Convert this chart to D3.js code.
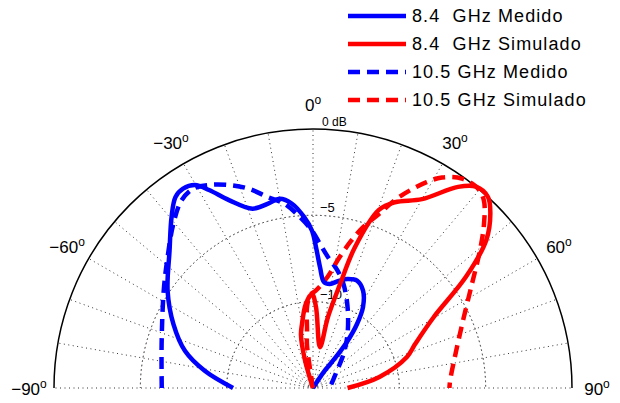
<!DOCTYPE html>
<html>
<head>
<meta charset="utf-8">
<script src="https://cdnjs.cloudflare.com/ajax/libs/d3/7.8.5/d3.min.js"></script>
<style>
  body { margin: 0; background: #fff; }
  svg { display: block; font-family: "Liberation Sans", Arial, Helvetica, sans-serif; }
</style>
</head>
<body>
<div id="chart"></div>
<script>
// tick values
var angleTicks = [-90, -60, -30, 0, 30, 60, 90];
var spokeTicks = [-90, -80, -70, -60, -50, -40, -30, -20, -10, 0, 10, 20, 30, 40, 50, 60, 70, 80, 90];
var ringTicks = [-5, -10];
var ringLabels = ['0 dB', '\u22125', '\u221210'];
var ringLabelValues = [0, -5, -10];

// series (angle in degrees, gain in dB)
var med84Ang = [-90, -81.1, -73.9, -65.4, -56.3, -46.2, -39.6, -35.75, -33.1, -30.2, -27.7, -24.1, -18.6, -13.7, -9.9, -6.5, -3.0, -0.4, 1.2, 3.3, 5.9, 9.1, 13.9, 17.6, 22.3, 27.2, 31.7, 34.5, 36.3, 36.5, 34, 35];
var med84Db  = [-10.37, -8.67, -7.29, -6.11, -4.88, -3.49, -2.15, -1.37, -1.22, -1.40, -2.05, -3.08, -4.04, -4.01, -3.87, -4.26, -5.08, -5.88, -6.83, -7.98, -8.83, -8.9, -8.59, -8.38, -8.28, -8.66, -9.49, -10.5, -11.62, -12.8, -13.84, -15];

var sim84Ang = [-20, -16, -12.8, -9.75, -4.8, -0.6, 2.1, 9.7, 11.9, 14.6, 16.6, 20.3, 23.8, 30, 35.8, 39, 42.5, 45.5, 49.5, 54, 59.6, 66.7, 71.7, 80.5, 90];
var sim84Db  = [-15, -13.3, -11.85, -11.24, -10.1, -9.56, -10.3, -12.6, -10.8, -8.8, -6.48, -4.0, -3.24, -2.37, -0.64, 0, 0, -0.6, -1.8, -4.05, -6.9, -8.56, -9.27, -11.1, -13.0];

var med105Ang = [-90, -73.8, -56.9, -48, -40.4, -35, -31.05, -27.1, -22.5, -17.9, -13.3, -8.9, -4.35, -0.4, 2.8, 6.5, 11.8, 16.3, 23.1, 32.6, 41.9, 58.2, 90];
var med105Db  = [-6.24, -5.87, -4.68, -3.67, -2.52, -1.73, -1.53, -1.79, -2.28, -2.87, -3.64, -4.19, -5.07, -5.88, -6.65, -7.36, -8.05, -8.72, -9.9, -11.29, -12.35, -13.46, -14.03];

var sim105Ang = [-9, -8, -6, -4, -1.5, 1.6, 7.5, 11.5, 14.6, 17.3, 20.8, 23.6, 26.3, 28.9, 31.5, 35.4, 39.4, 42.3, 46.2, 50.5, 56.8, 66.8, 77.8, 87, 90];
var sim105Db  = [-15, -12.5, -11.7, -10.2, -9.6, -9.36, -8.5, -7.26, -6.17, -5.24, -4.2, -3.1, -2.2, -1.38, -0.7, -0.12, 0, -0.3, -1.28, -2.47, -4.0, -5.6, -6.6, -7.05, -7.1];

var seriesNames = ['8.4  GHz Medido', '8.4  GHz Simulado', '10.5 GHz Medido', '10.5 GHz Simulado'];
var seriesColors = ['#0000ff', '#ff0000', '#0000ff', '#ff0000'];
var seriesDashed = [false, false, true, true];

var width = 620, height = 403;
var cx = 313, cy = 388, R = 259;

var svg = d3.select('#chart').append('svg')
  .attr('width', width)
  .attr('height', height);

var r = d3.scaleLinear().domain([-15, 0]).range([0, R]);
var toRad = function(a) { return a * Math.PI / 180; };

var g = svg.append('g').attr('transform', 'translate(' + cx + ',' + cy + ')');

// spokes
g.selectAll('.spoke')
  .data(spokeTicks)
  .enter().append('line')
  .attr('x1', 0).attr('y1', 0)
  .attr('x2', function(d) { return R * Math.sin(toRad(d)); })
  .attr('y2', function(d) { return -R * Math.cos(toRad(d)); })
  .attr('stroke', '#333')
  .attr('stroke-width', 1)
  .attr('stroke-dasharray', '1,3.5');

// rings
var arc = d3.arc().startAngle(-Math.PI / 2).endAngle(Math.PI / 2);
g.selectAll('.ring')
  .data(ringTicks)
  .enter().append('path')
  .attr('d', function(d) { return arc({innerRadius: r(d), outerRadius: r(d)}); })
  .attr('fill', 'none')
  .attr('stroke', '#333')
  .attr('stroke-width', 1)
  .attr('stroke-dasharray', '1,3.5');

// outer boundary
g.append('path')
  .attr('d', arc({innerRadius: R, outerRadius: R}))
  .attr('fill', 'none')
  .attr('stroke', '#000')
  .attr('stroke-width', 1.5);

// ring labels
g.selectAll('.rlab')
  .data(ringLabelValues)
  .enter().append('text')
  .attr('x', function(d, i) { return i === 0 ? 9 : 7; })
  .attr('y', function(d) { return -r(d) - 3; })
  .attr('font-size', function(d, i) { return i === 0 ? 12 : 13; })
  .attr('fill', '#000')
  .text(function(d, i) { return ringLabels[i]; });

// angle labels
var alab = g.selectAll('.alab')
  .data(angleTicks)
  .enter().append('text')
  .attr('x', function(d) { return 284 * Math.sin(toRad(d)); })
  .attr('y', function(d) { return -284 * Math.cos(toRad(d)); })
  .attr('dy', '0.4em')
  .attr('text-anchor', 'middle')
  .attr('font-size', 17)
  .attr('fill', '#000');
alab.append('tspan').text(function(d) { return d < 0 ? '\u2212' + Math.abs(d) : String(d); });
alab.append('tspan').attr('dy', -7).attr('font-size', 12).text('o');

// series
var seriesData = [
  d3.zip(med84Ang, med84Db),
  d3.zip(sim84Ang, sim84Db),
  d3.zip(med105Ang, med105Db),
  d3.zip(sim105Ang, sim105Db)
];
var line = d3.lineRadial()
  .angle(function(d) { return toRad(d[0]); })
  .radius(function(d) { return r(d[1]); })
  .curve(d3.curveCatmullRom.alpha(0.5));

// draw dashed first, solid on top
[2, 3, 0, 1].forEach(function(i) {
  g.append('path')
    .attr('d', line(seriesData[i]))
    .attr('fill', 'none')
    .attr('stroke', seriesColors[i])
    .attr('stroke-width', 4.5)
    .attr('stroke-linejoin', 'round')
    .attr('stroke-dasharray', seriesDashed[i] ? '12,7' : null);
});

// legend
var legend = svg.selectAll('.legend')
  .data(seriesNames)
  .enter().append('g')
  .attr('transform', function(d, i) { return 'translate(348,' + (16 + i * 28) + ')'; });
legend.append('line')
  .attr('x1', 0).attr('x2', 58)
  .attr('stroke', function(d, i) { return seriesColors[i]; })
  .attr('stroke-width', 4.5)
  .attr('stroke-dasharray', function(d, i) { return seriesDashed[i] ? '12,7' : null; });
legend.append('text')
  .attr('x', 64)
  .attr('y', 6)
  .attr('font-size', 18)
  .attr('letter-spacing', 1.1)
  .style('white-space', 'pre')
  .text(function(d) { return d; });
</script>
</body>
</html>
